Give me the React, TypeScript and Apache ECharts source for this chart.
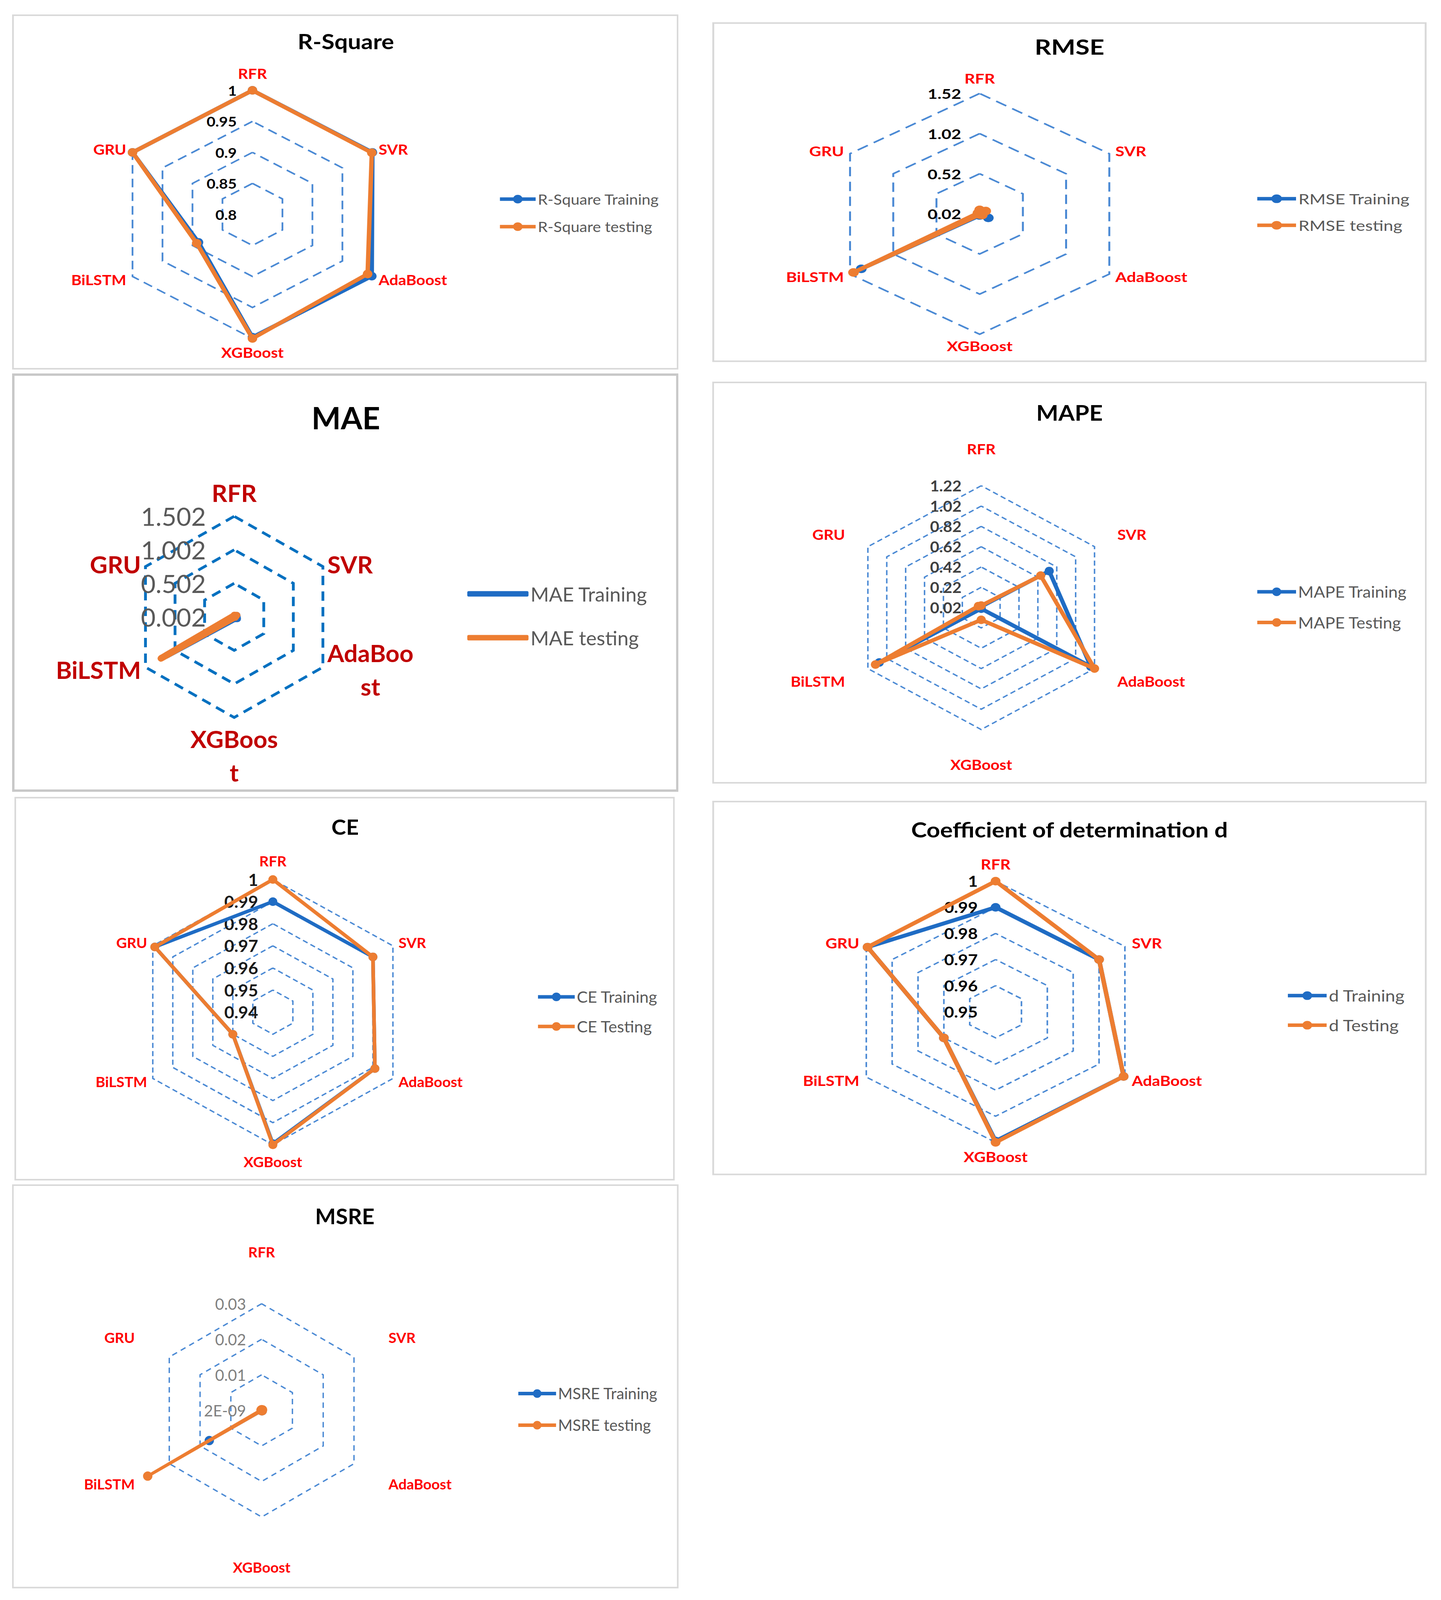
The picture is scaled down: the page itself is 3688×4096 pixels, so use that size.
import React, { useEffect, useRef } from 'react';
import * as echarts from 'echarts';

// ---------------- data ----------------
const categories = ['RFR', 'SVR', 'AdaBoost', 'XGBoost', 'BiLSTM', 'GRU'];

const rSquareTraining = [1, 1, 0.999, 0.998, 0.89, 1];
const rSquareTesting = [1, 0.999, 0.992, 1, 0.893, 1];
const rSquareTicks = ['0.8', '0.85', '0.9', '0.95', '1'];

const rmseTraining = [0.03, 0.05, 0.12, 0.04, 1.39, 0.03];
const rmseTesting = [0.07, 0.09, 0.05, 0.03, 1.48, 0.04];
const rmseTicks = ['0.02', '0.52', '1.02', '1.52'];

const maeTraining = [0.02, 0.05, 0.06, 0.03, 1.15, 0.01];
const maeTesting = [0.03, 0.05, 0.02, 0.01, 1.24, 0.02];
const maeTicks = ['0.002', '0.502', '1.002', '1.502'];
const maeWrappedNames: Record<string, string[]> = { AdaBoost: ['AdaBoo', 'st'], XGBoost: ['XGBoos', 't'] };

const mapeTraining = [0.03, 0.74, 1.18, 0.03, 1.1, 0.03];
const mapeTesting = [0.04, 0.65, 1.22, 0.14, 1.14, 0.05];
const mapeTicks = ['0.02', '0.22', '0.42', '0.62', '0.82', '1.02', '1.22'];

const ceTraining = [0.99, 0.99, 0.991, 0.9995, 0.96, 0.999];
const ceTesting = [1, 0.99, 0.991, 1, 0.96, 0.999];
const ceTicks = ['0.94', '0.95', '0.96', '0.97', '0.98', '0.99', '1'];

const dTraining = [0.99, 0.99, 0.9995, 0.9995, 0.97, 0.9995];
const dTesting = [1, 0.99, 0.9995, 1, 0.97, 0.9995];
const dTicks = ['0.95', '0.96', '0.97', '0.98', '0.99', '1'];

const msreTraining = [0.0001, 0.0002, 0.0002, 0.0001, 0.017, 0.0001];
const msreTesting = [0.0002, 0.0003, 0.0002, 0.0001, 0.037, 0.0002];
const msreTicks = ['2E-09', '0.01', '0.02', '0.03'];

// ---------------- layout / style ----------------
const K = 3688 / 1412;
const BLUE = '#1f6cc4';
const ORANGE = '#ed7d31';
const FONT = 'Lato';
// ECharts places radar indicators counter-clockwise from the top; the reference runs clockwise.
const ORDER = [0, 5, 4, 3, 2, 1];

const PANELS: any[] = [
  {
    key: 'rsq', title: 'R-Square', box: [12, 14, 665, 362], s: 1.116, titleAt: [339, 40], titleSize: 54,
    center: [247.5, 210], r: 121.6, min: 0.8, max: 1, split: 4,
    train: rSquareTraining, test: rSquareTesting, ticks: rSquareTicks,
    tickSize: 35, tickColor: '#000000', tickBold: true, tickMargin: 36,
    nameSize: 36, nameColor: '#ff0000', gaps: [25, 16.5, 17.5],
    legendNames: ['R-Square Training', 'R-Square testing'], legendIcon: [490, 525], legendY: [195, 222], legendSize: 36,
    lineWidth: 10, symbolSize: 22, gridColor: '#4a89d4', gridWidth: 4, dash: [22, 13],
  },
  {
    key: 'rmse', title: 'RMSE', box: [698, 22, 1398, 355], s: 1.243, titleAt: [1048, 46], titleSize: 53,
    center: [960, 209.8], r: 118, min: 0.02, max: 1.52, split: 3,
    train: rmseTraining, test: rmseTesting, ticks: rmseTicks,
    tickSize: 35, tickColor: '#000000', tickBold: true, tickMargin: 38,
    nameSize: 34, nameColor: '#ff0000', gaps: [22, 14.4, 13],
    legendNames: ['RMSE Training', 'RMSE testing'], legendIcon: [1232, 1270], legendY: [195, 221], legendSize: 36,
    lineWidth: 10, symbolSize: 22, gridColor: '#4a89d4', gridWidth: 4, dash: [24, 14],
  },
  {
    key: 'mae', title: 'MAE', box: [12, 366, 665, 776], s: 1.018, titleAt: [339, 409], titleSize: 78,
    center: [229.6, 604.6], r: 98.6, min: 0.002, max: 1.502, split: 3,
    train: maeTraining, test: maeTesting, ticks: maeTicks,
    tickSize: 64, tickColor: '#595959', tickBold: false, tickMargin: 71,
    nameSize: 61, nameColor: '#c00000', nameLineHeight: 86, gaps: [17, 13, 11], wrap: maeWrappedNames,
    legendNames: ['MAE Training', 'MAE testing'], legendIcon: [458, 518], legendY: [582, 625], legendSize: 50,
    thickLegend: true,
    lineWidth: 17, symbolSize: 0, gridColor: '#0070c0', gridWidth: 7, dash: [24, 16],
    border: '#c8c8c8', borderWidth: 6,
  },
  {
    key: 'mape', title: 'MAPE', box: [698, 374, 1398, 768], s: 1.073, titleAt: [1048, 404], titleSize: 56,
    center: [961.5, 595.5], r: 119.5, min: 0.02, max: 1.22, split: 6,
    train: mapeTraining, test: mapeTesting, ticks: mapeTicks,
    tickSize: 38, tickColor: '#404040', tickBold: true, tickMargin: 47,
    nameSize: 37, nameColor: '#ff0000', gaps: [76, 63, 70],
    legendNames: ['MAPE Training', 'MAPE Testing'], legendIcon: [1232, 1270], legendY: [580, 610], legendSize: 40,
    lineWidth: 10, symbolSize: 22, gridColor: '#4a89d4', gridWidth: 3.5, dash: [13, 8],
  },
  {
    key: 'ce', title: 'CE', box: [14, 781, 661, 1157], s: 1.045, titleAt: [338, 810], titleSize: 54,
    center: [267.2, 992], r: 130, min: 0.94, max: 1, split: 6,
    train: ceTraining, test: ceTesting, ticks: ceTicks,
    tickSize: 42, tickColor: '#1a1a1a', tickBold: true, tickMargin: 36,
    nameSize: 36, nameColor: '#ff0000', gaps: [29, 16, 26],
    legendNames: ['CE Training', 'CE Testing'], legendIcon: [527, 563], legendY: [977, 1006], legendSize: 40,
    lineWidth: 9, symbolSize: 22, gridColor: '#4a89d4', gridWidth: 3.5, dash: [13, 8],
  },
  {
    key: 'd', title: 'Coefficient of determination d', box: [698, 785, 1398, 1152], s: 1.143, titleAt: [1048, 813], titleSize: 53,
    center: [975.6, 991.8], r: 128, min: 0.95, max: 1, split: 5,
    train: dTraining, test: dTesting, ticks: dTicks,
    tickSize: 38, tickColor: '#000000', tickBold: true, tickMargin: 40,
    nameSize: 36, nameColor: '#ff0000', gaps: [26, 18, 19],
    legendNames: ['d Training', 'd Testing'], legendIcon: [1262, 1300], legendY: [976, 1005], legendSize: 40,
    lineWidth: 10, symbolSize: 22, gridColor: '#4a89d4', gridWidth: 3.5, dash: [13, 8],
  },
  {
    key: 'msre', title: 'MSRE', box: [12, 1161, 665, 1557], s: 1.0, titleAt: [338, 1192], titleSize: 56,
    center: [256.5, 1382.5], r: 104.5, min: 0, max: 0.03, split: 3,
    train: msreTraining, test: msreTesting, ticks: msreTicks,
    tickSize: 40, tickColor: '#808080', tickBold: false, tickMargin: 40,
    nameSize: 37, nameColor: '#ff0000', gaps: [115, 102, 110],
    legendNames: ['MSRE Training', 'MSRE testing'], legendIcon: [508, 545], legendY: [1366, 1397], legendSize: 40,
    lineWidth: 8, symbolSize: 24, gridColor: '#4a89d4', gridWidth: 3.5, dash: [14, 11],
  },
];

function legendIconPath(w: number, h: number, t: number): string {
  const y0 = (h - t) / 2;
  const y1 = (h + t) / 2;
  const r = h / 2;
  const cx = w / 2;
  return (
    `path://M0 ${y0}L${w} ${y0}L${w} ${y1}L0 ${y1}Z` +
    `M${cx - r} ${r}A${r} ${r} 0 1 1 ${cx + r} ${r}A${r} ${r} 0 1 1 ${cx - r} ${r}Z`
  );
}

function panelSize(p: any) {
  return {
    W: ((p.box[2] - p.box[0]) * K) / p.s,
    H: (p.box[3] - p.box[1]) * K,
  };
}

function buildOption(p: any) {
  const s = p.s;
  const { W, H } = panelSize(p);
  const ux = (x: number) => ((x - p.box[0]) * K) / s;
  const uy = (y: number) => (y - p.box[1]) * K;
  const nameLH = p.nameLineHeight || p.nameSize;

  const indicator = ORDER.map((ci, k) => {
    let gap = p.gaps[1];
    if (k === 0) gap = p.gaps[0];
    else if (k === 3) gap = p.gaps[2];
    return {
      name: categories[ci],
      min: p.min,
      max: p.max,
      nameGap: gap,
      axisLabel: { show: k === 0 },
    };
  });

  const axisName: any = {
    color: p.nameColor,
    fontSize: p.nameSize,
    fontWeight: 'bold',
    fontFamily: FONT,
    lineHeight: nameLH,
  };
  if (p.wrap) {
    axisName.formatter = (name: string) => {
      const parts = p.wrap[name];
      if (!parts) return name;
      return parts.map((t: string) => `{c|${t}}`).join('\n');
    };
    axisName.rich = {
      c: {
        align: 'center',
        color: p.nameColor,
        fontSize: p.nameSize,
        fontWeight: 'bold',
        fontFamily: FONT,
        lineHeight: nameLH,
      },
    };
  }

  const mkSeries = (name: string, values: number[], color: string, z: number) => ({
    type: 'radar',
    z,
    silent: true,
    symbol: p.symbolSize ? 'circle' : 'none',
    symbolSize: p.symbolSize || 0,
    lineStyle: { color, width: p.lineWidth, join: 'round', cap: 'round' },
    itemStyle: { color },
    data: [{ name, value: ORDER.map((i) => values[i]) }],
  });

  const L = Math.round(p.legendSize * 1.25);
  const iconW = ((p.legendIcon[1] - p.legendIcon[0]) * K) / s;
  const iconH = p.thickLegend ? 14 : 22;

  const bw = p.borderWidth || 4;

  return {
    animation: false,
    textStyle: { fontFamily: FONT },
    radar: {
      center: [ux(p.center[0]), uy(p.center[1])],
      radius: p.r * K,
      startAngle: 90,
      shape: 'polygon',
      splitNumber: p.split,
      indicator,
      axisName,
      axisLine: { show: false },
      axisTick: { show: false },
      splitArea: { show: false },
      splitLine: {
        show: true,
        lineStyle: { color: p.gridColor, width: p.gridWidth, type: p.dash },
      },
      axisLabel: {
        show: false,
        margin: p.tickMargin,
        color: p.tickColor,
        fontSize: p.tickSize,
        fontWeight: p.tickBold ? 'bold' : 'normal',
        fontFamily: FONT,
        showMinLabel: true,
        showMaxLabel: true,
        formatter: (_v: number, i: number) => (p.ticks[i] !== undefined ? p.ticks[i] : ''),
      },
    },
    legend: {
      data: p.legendNames,
      orient: 'vertical',
      left: ux(p.legendIcon[0]),
      top: uy(p.legendY[0]) - L / 2,
      itemGap: (p.legendY[1] - p.legendY[0]) * K - L,
      itemWidth: iconW,
      itemHeight: iconH,
      icon: p.thickLegend ? 'roundRect' : legendIconPath(iconW, iconH, 9),
      padding: 0,
      selectedMode: false,
      itemStyle: { borderWidth: 0 },
      textStyle: { fontSize: p.legendSize, color: '#595959', fontFamily: FONT, lineHeight: L },
    },
    graphic: [
      {
        type: 'rect',
        silent: true,
        z: -10,
        shape: { x: bw / 2, y: bw / 2, width: W - bw, height: H - bw },
        style: { fill: 'none', stroke: p.border || '#d9d9d9', lineWidth: bw },
      },
      {
        type: 'text',
        silent: true,
        x: ux(p.titleAt[0]),
        y: uy(p.titleAt[1]),
        style: {
          text: p.title,
          fill: '#000000',
          font: `bold ${p.titleSize}px ${FONT}`,
          align: 'center',
          verticalAlign: 'middle',
        },
      },
    ],
    series: [
      mkSeries(p.legendNames[0], p.train, BLUE, 2),
      mkSeries(p.legendNames[1], p.test, ORANGE, 3),
    ],
  };
}

function PanelChart({ p }: { p: any }) {
  const ref = useRef<HTMLDivElement>(null);
  const { W, H } = panelSize(p);
  useEffect(() => {
    if (!ref.current) return;
    const chart = echarts.init(ref.current, null, { renderer: 'svg', width: W, height: H });
    chart.setOption(buildOption(p) as any);
    return () => chart.dispose();
  }, []);
  return (
    <div
      ref={ref}
      style={{
        position: 'absolute',
        left: p.box[0] * K,
        top: p.box[1] * K,
        width: W,
        height: H,
        transform: `scaleX(${p.s})`,
        transformOrigin: '0 0',
      }}
    />
  );
}

export default function App() {
  return (
    <div
      style={{
        position: 'absolute',
        left: 0,
        top: 0,
        width: 3688,
        height: 4096,
        background: '#ffffff',
        overflow: 'hidden',
      }}
    >
      {PANELS.map((p) => (
        <PanelChart key={p.key} p={p} />
      ))}
    </div>
  );
}
